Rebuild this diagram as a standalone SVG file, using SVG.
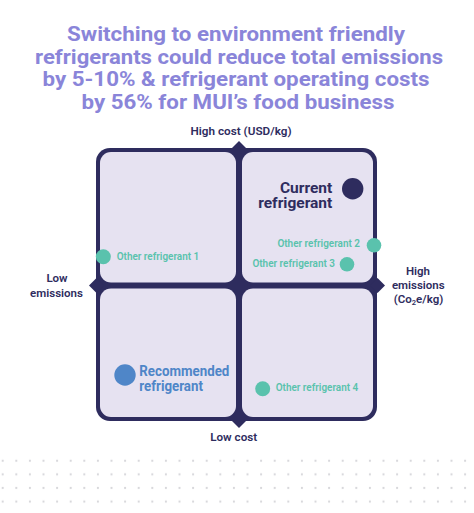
<svg xmlns="http://www.w3.org/2000/svg" width="474" height="513" viewBox="0 0 474 513">
<defs>
<style>
.title{font-family:Roboto,"Liberation Sans",sans-serif;font-weight:700;font-size:20px;fill:#8a85d9;text-anchor:middle}
.axis{font-family:Roboto,"Liberation Sans",sans-serif;font-weight:600;font-size:11.5px;fill:#2e2c5e;text-anchor:middle}
.tile{fill:#e6e2f1}
.navy{fill:#2e2c5e}
.teal{fill:#5ac2ad}
.tl{font-family:Roboto,"Liberation Sans",sans-serif;font-weight:600;font-size:10px;fill:#5ac2ad}
.big{font-family:Roboto,"Liberation Sans",sans-serif;font-weight:700;font-size:15.5px}
</style>
<pattern id="dots" x="-4.1" y="454" width="13.6" height="13.6" patternUnits="userSpaceOnUse">
<circle cx="6.8" cy="6.8" r="1.1" fill="#d6d6da"/>
</pattern>
</defs>
<rect width="474" height="513" fill="#ffffff"/>
<g id="title">
<text class="title" x="236" y="41" textLength="338" lengthAdjust="spacingAndGlyphs">Switching to environment friendly</text>
<text class="title" x="239" y="63.5" textLength="408" lengthAdjust="spacingAndGlyphs">refrigerants could reduce total emissions</text>
<text class="title" x="236" y="86" textLength="387" lengthAdjust="spacingAndGlyphs">by 5-10% &amp; refrigerant operating costs</text>
<text class="title" x="238" y="108.5" textLength="313" lengthAdjust="spacingAndGlyphs">by 56% for MUI’s food business</text>
</g>
<g id="grid">
<rect class="navy" x="96" y="148" width="281" height="273" rx="14"/>
<polygon class="navy" points="239,141 246.5,148.5 239,156 231.5,148.5"/>
<polygon class="navy" points="239,428 246.5,420.5 239,413 231.5,420.5"/>
<polygon class="navy" points="89,285.5 96.5,278 104,285.5 96.5,293"/>
<polygon class="navy" points="385,285.5 377.5,278 370,285.5 377.5,293"/>
<rect id="q-tl" class="tile" x="100" y="152" width="136" height="130.5" rx="11"/>
<rect id="q-tr" class="tile" x="242" y="152" width="131" height="130.5" rx="11"/>
<rect id="q-bl" class="tile" x="100" y="288.5" width="136" height="128.5" rx="11"/>
<rect id="q-br" class="tile" x="242" y="288.5" width="131" height="128.5" rx="11"/>
</g>
<g id="connectors"></g>
<g id="axis-top"><text class="axis" x="241" y="135" textLength="101" lengthAdjust="spacingAndGlyphs">High cost (USD/kg)</text></g>
<g id="axis-bottom"><text class="axis" x="233.7" y="440.7" textLength="47" lengthAdjust="spacingAndGlyphs">Low cost</text></g>
<g id="axis-left">
<text class="axis" x="57" y="282.3">Low<tspan x="56.5" dy="14.4">emissions</tspan></text>
</g>
<g id="axis-right">
<text class="axis" x="418" y="275">High<tspan x="418.3" dy="14">emissions</tspan><tspan x="418.5" dy="14.3">(Co</tspan><tspan font-size="7.5px" dy="2">2</tspan><tspan dy="-2">e/kg)</tspan></text>
</g>
<g id="current">
<circle class="navy" cx="352.7" cy="188.7" r="10.7"/>
<text class="big navy" x="332.3" y="192.7" text-anchor="end">Current<tspan x="332.3" dy="15.3">refrigerant</tspan></text>
</g>
<g id="other1">
<circle class="teal" cx="103.3" cy="256.7" r="7.5"/>
<text class="tl" x="116.7" y="260" textLength="82.6" lengthAdjust="spacingAndGlyphs">Other refrigerant 1</text>
</g>
<g id="other2">
<circle class="teal" cx="374" cy="245.3" r="7.3"/>
<text class="tl" x="360" y="247.3" text-anchor="end" textLength="82.6" lengthAdjust="spacingAndGlyphs">Other refrigerant 2</text>
</g>
<g id="other3">
<circle class="teal" cx="347" cy="264.3" r="7.3"/>
<text class="tl" x="335" y="266.7" text-anchor="end" textLength="82.6" lengthAdjust="spacingAndGlyphs">Other refrigerant 3</text>
</g>
<g id="other4">
<circle class="teal" cx="262.7" cy="388.7" r="7.5"/>
<text class="tl" x="275.7" y="391" textLength="82.6" lengthAdjust="spacingAndGlyphs">Other refrigerant 4</text>
</g>
<g id="recommended">
<circle cx="125" cy="375" r="10.7" fill="#4f86c8"/>
<text class="big" transform="translate(139.3,376) scale(0.86,1)" x="0" y="0" fill="#4f86c8" font-size="14.5px">Recommended<tspan x="0" dy="15">refrigerant</tspan></text>
</g>
<rect id="dot-grid" x="0" y="454" width="474" height="54.4" fill="url(#dots)"/>
</svg>
